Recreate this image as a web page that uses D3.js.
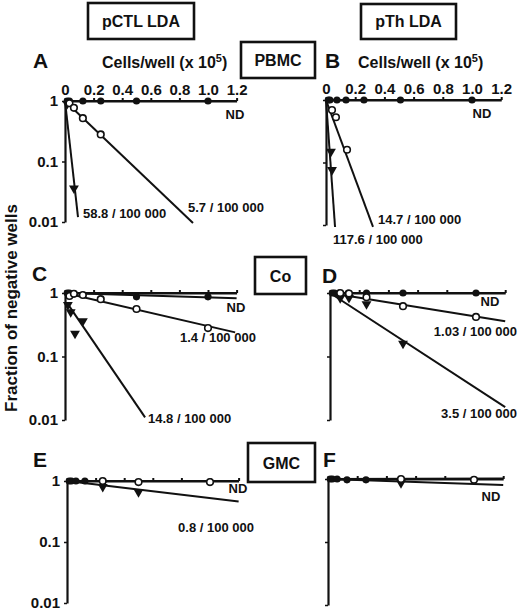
<!DOCTYPE html>
<html>
<head>
<meta charset="utf-8">
<script src="https://cdn.jsdelivr.net/npm/d3@7"></script>
<style>
  body { margin: 0; background: #fff; }
  text { font-family: "Liberation Sans", Arial, Helvetica, sans-serif; font-weight: bold; fill: #111; }
</style>
</head>
<body>
<svg></svg>
<script>
// x = cells/well (x 10^5), y = fraction of negative wells (log)
const xTicks = [0, 0.2, 0.4, 0.6, 0.8, 1.0, 1.2];
const xTickLabels = ["0", "0.2", "0.4", "0.6", "0.8", "1.0", "1.2"];
const yTicks = [1, 0.1, 0.01];
const yTickLabels = ["1", "0.1", "0.01"];

// A: pCTL, PBMC
const filledA = [[0.0156, 1], [0.031, 1], [0.125, 1], [0.25, 1], [0.5, 1], [1.0, 1]];
const openA = [[0.031, 0.92], [0.0625, 0.77], [0.125, 0.52], [0.25, 0.28]];
const triA = [[0.0156, 0.9], [0.0625, 0.036]];
const fitsA = [[[0, 1], [1.2, 1]], [[0, 1], [0.895, 0.0096]], [[0, 1], [0.091, 0.012]]];
const fitLabelsA = ["ND", "5.7 / 100 000", "58.8 / 100 000"];

// B: pTh, PBMC
const filledB = [[0.0156, 1], [0.027, 1], [0.075, 1], [0.137, 1], [0.26, 1], [0.51, 1], [1.0, 1]];
const openB = [[0.041, 0.69], [0.068, 0.53], [0.144, 0.16]];
const triB = [[0.034, 0.15], [0.041, 0.076]];
const fitsB = [[[0, 1], [1.2, 1]], [[0, 1], [0.322, 0.0093]], [[0, 1], [0.062, 0.0093]]];
const fitLabelsB = ["ND", "14.7 / 100 000", "117.6 / 100 000"];

// C: pCTL, Co
const filledC = [[0.0156, 1], [0.031, 1], [0.5, 0.87], [1.0, 0.87]];
const openC = [[0.031, 0.9], [0.0625, 0.97], [0.125, 0.93], [0.25, 0.8], [0.5, 0.56], [1.0, 0.28]];
const triC = [[0.02, 0.65], [0.04, 0.5], [0.07, 0.23], [0.125, 0.36]];
const fitsC = [[[0, 1], [1.2, 1]], [[0, 1], [1.2, 0.83]], [[0, 1], [1.19, 0.24]], [[0.014, 0.7], [0.56, 0.011]]];
const fitLabelsC = ["ND", "1.4 / 100 000", "14.8 / 100 000"];

// D: pTh, Co
const filledD = [[0.0156, 1], [0.031, 1], [0.0625, 1], [0.125, 1], [0.25, 1], [0.5, 1], [1.0, 1]];
const openD = [[0.07, 1], [0.13, 0.98], [0.25, 0.86], [0.5, 0.62], [1.0, 0.42]];
const triD = [[0.07, 0.83], [0.13, 0.84], [0.25, 0.67], [0.5, 0.16]];
const fitsD = [[[0, 1], [1.2, 1]], [[0, 1], [1.2, 0.36]], [[0, 1], [1.2, 0.016]]];
const fitLabelsD = ["ND", "1.03 / 100 000", "3.5 / 100 000"];

// E: pCTL, GMC
const filledE = [[0.0156, 1], [0.031, 1], [0.0625, 1], [0.125, 1], [1.0, 0.96]];
const openE = [[0.25, 1], [0.5, 0.96], [1.0, 0.96]];
const triE = [[0.25, 0.8], [0.5, 0.66]];
const fitsE = [[[0, 1], [1.2, 1]], [[0, 1], [1.2, 0.46]]];
const fitLabelsE = ["ND", "0.8 / 100 000"];

// F: pTh, GMC
const filledF = [[0.0156, 1], [0.031, 1], [0.0625, 1], [0.13, 0.97], [0.26, 0.97]];
const openF = [[0.5, 1], [1.0, 0.97]];
const triF = [[0.5, 0.86]];
const fitsF = [[[0, 1], [1.2, 1.02]], [[0, 1], [1.2, 0.8]]];
const fitLabelsF = ["ND"];

const svg = d3.select("svg").attr("width", 520).attr("height", 614);

const panels = [
  { id: "A", filled: filledA, open: openA, tri: triA, fits: fitsA, labels: fitLabelsA,
    x0: 65, x1: 236.6, yTop: 101, yBot: 222, xLab: true, yLab: true, letter: [33, 68],
    labelPos: [[235, 119, "middle"], [188, 212, "start"], [83, 218, "start"]] },
  { id: "B", filled: filledB, open: openB, tri: triB, fits: fitsB, labels: fitLabelsB,
    x0: 326, x1: 501.2, yTop: 100, yBot: 225, xLab: true, yLab: false, letter: [325, 68],
    labelPos: [[482, 118, "middle"], [378, 224, "start"], [333, 244, "start"]] },
  { id: "C", filled: filledC, open: openC, tri: triC, fits: fitsC, labels: fitLabelsC,
    x0: 65, x1: 236.6, yTop: 293, yBot: 420, xLab: false, yLab: true, letter: [32, 281],
    labelPos: [[236, 312, "middle"], [180, 342, "start"], [148, 423, "start"]] },
  { id: "D", filled: filledD, open: openD, tri: triD, fits: fitsD, labels: fitLabelsD,
    x0: 330, x1: 505.2, yTop: 293, yBot: 420, xLab: false, yLab: false, letter: [322, 283],
    labelPos: [[490, 306, "middle"], [517, 336, "end"], [517, 418, "end"]] },
  { id: "E", filled: filledE, open: openE, tri: triE, fits: fitsE, labels: fitLabelsE,
    x0: 67, x1: 238.6, yTop: 481, yBot: 603, xLab: false, yLab: true, letter: [33, 467],
    labelPos: [[238, 493, "middle"], [216, 532, "middle"]] },
  { id: "F", filled: filledF, open: openF, tri: triF, fits: fitsF, labels: fitLabelsF,
    x0: 328, x1: 503.2, yTop: 479, yBot: 605, xLab: false, yLab: false, letter: [323, 467],
    labelPos: [[491, 501, "middle"]] }
];

panels.forEach(p => {
  const x = d3.scaleLinear().domain([0, 1.2]).range([p.x0, p.x1]);
  const y = d3.scaleLog().domain([1, 0.01]).range([p.yTop, p.yBot]);
  const g = svg.append("g");

  // top x axis
  const xa = g.append("g").attr("transform", `translate(0,${p.yTop})`)
    .call(d3.axisTop(x).tickValues(xTicks).tickSize(3).tickSizeOuter(0).tickPadding(3)
      .tickFormat((d, i) => p.xLab ? xTickLabels[i] : ""));
  xa.selectAll("path, line").attr("stroke", "#111").attr("stroke-width", 2);
  xa.selectAll("text").attr("font-size", 15).attr("font-family", null).attr("fill", "#111");

  // left y axis
  const ya = g.append("g").attr("transform", `translate(${p.x0},0)`)
    .call(d3.axisLeft(y).tickValues(yTicks).tickSize(3).tickSizeOuter(0).tickPadding(4)
      .tickFormat((d, i) => p.yLab ? yTickLabels[i] : ""));
  ya.selectAll("path").attr("stroke", "#111").attr("stroke-width", 2.2);
  ya.selectAll("line").attr("stroke", "#111").attr("stroke-width", 1.5);
  ya.selectAll("text").attr("font-size", 15).attr("font-family", null).attr("fill", "#111");

  // fitted lines
  const line = d3.line().x(d => x(d[0])).y(d => y(d[1]));
  g.selectAll(".fit").data(p.fits).enter().append("path")
    .attr("d", line).attr("fill", "none").attr("stroke", "#111").attr("stroke-width", 2);

  // markers
  g.selectAll(".filled").data(p.filled).enter().append("circle")
    .attr("cx", d => x(d[0])).attr("cy", d => y(d[1])).attr("r", 3.6).attr("fill", "#111");
  g.selectAll(".tri").data(p.tri).enter().append("path")
    .attr("d", d3.symbol().type(d3.symbolTriangle).size(42))
    .attr("transform", d => `translate(${x(d[0])},${y(d[1])}) rotate(180)`)
    .attr("fill", "#111");
  g.selectAll(".open").data(p.open).enter().append("circle")
    .attr("cx", d => x(d[0])).attr("cy", d => y(d[1])).attr("r", 3.3)
    .attr("fill", "#fff").attr("stroke", "#111").attr("stroke-width", 1.6);

  // frequency labels
  p.labels.forEach((t, i) => {
    const pos = p.labelPos[i];
    g.append("text").attr("x", pos[0]).attr("y", pos[1]).attr("text-anchor", pos[2])
      .attr("font-size", 13).text(t);
  });

  // panel letter
  g.append("text").attr("x", p.letter[0]).attr("y", p.letter[1]).attr("font-size", 21).text(p.id);
});

// boxed headers
const boxes = [
  { text: "pCTL LDA", x: 88, y: 3, w: 106, h: 36, base: 27 },
  { text: "pTh LDA", x: 361, y: 4, w: 95, h: 35, base: 27 },
  { text: "PBMC", x: 241, y: 42, w: 74, h: 36, base: 66 },
  { text: "Co", x: 255, y: 257, w: 51, h: 37, base: 282 },
  { text: "GMC", x: 248, y: 443, w: 67, h: 39, base: 469 }
];
boxes.forEach(b => {
  svg.append("rect").attr("x", b.x).attr("y", b.y).attr("width", b.w).attr("height", b.h)
    .attr("fill", "#fff").attr("stroke", "#111").attr("stroke-width", 2.6);
  svg.append("text").attr("x", b.x + b.w / 2).attr("y", b.base).attr("text-anchor", "middle")
    .attr("font-size", 16).text(b.text);
});

// Cells/well titles
[[102, 68], [358, 68]].forEach(([tx, ty]) => {
  const t = svg.append("text").attr("x", tx).attr("y", ty).attr("font-size", 16);
  t.append("tspan").text("Cells/well (x 10");
  t.append("tspan").attr("dy", -6).attr("font-size", 11).text("5");
  t.append("tspan").attr("dy", 6).text(")");
});

svg.append("text")
  .attr("transform", "translate(17,308) rotate(-90)")
  .attr("text-anchor", "middle")
  .attr("font-size", 17)
  .text("Fraction of negative wells");
</script>
</body>
</html>
